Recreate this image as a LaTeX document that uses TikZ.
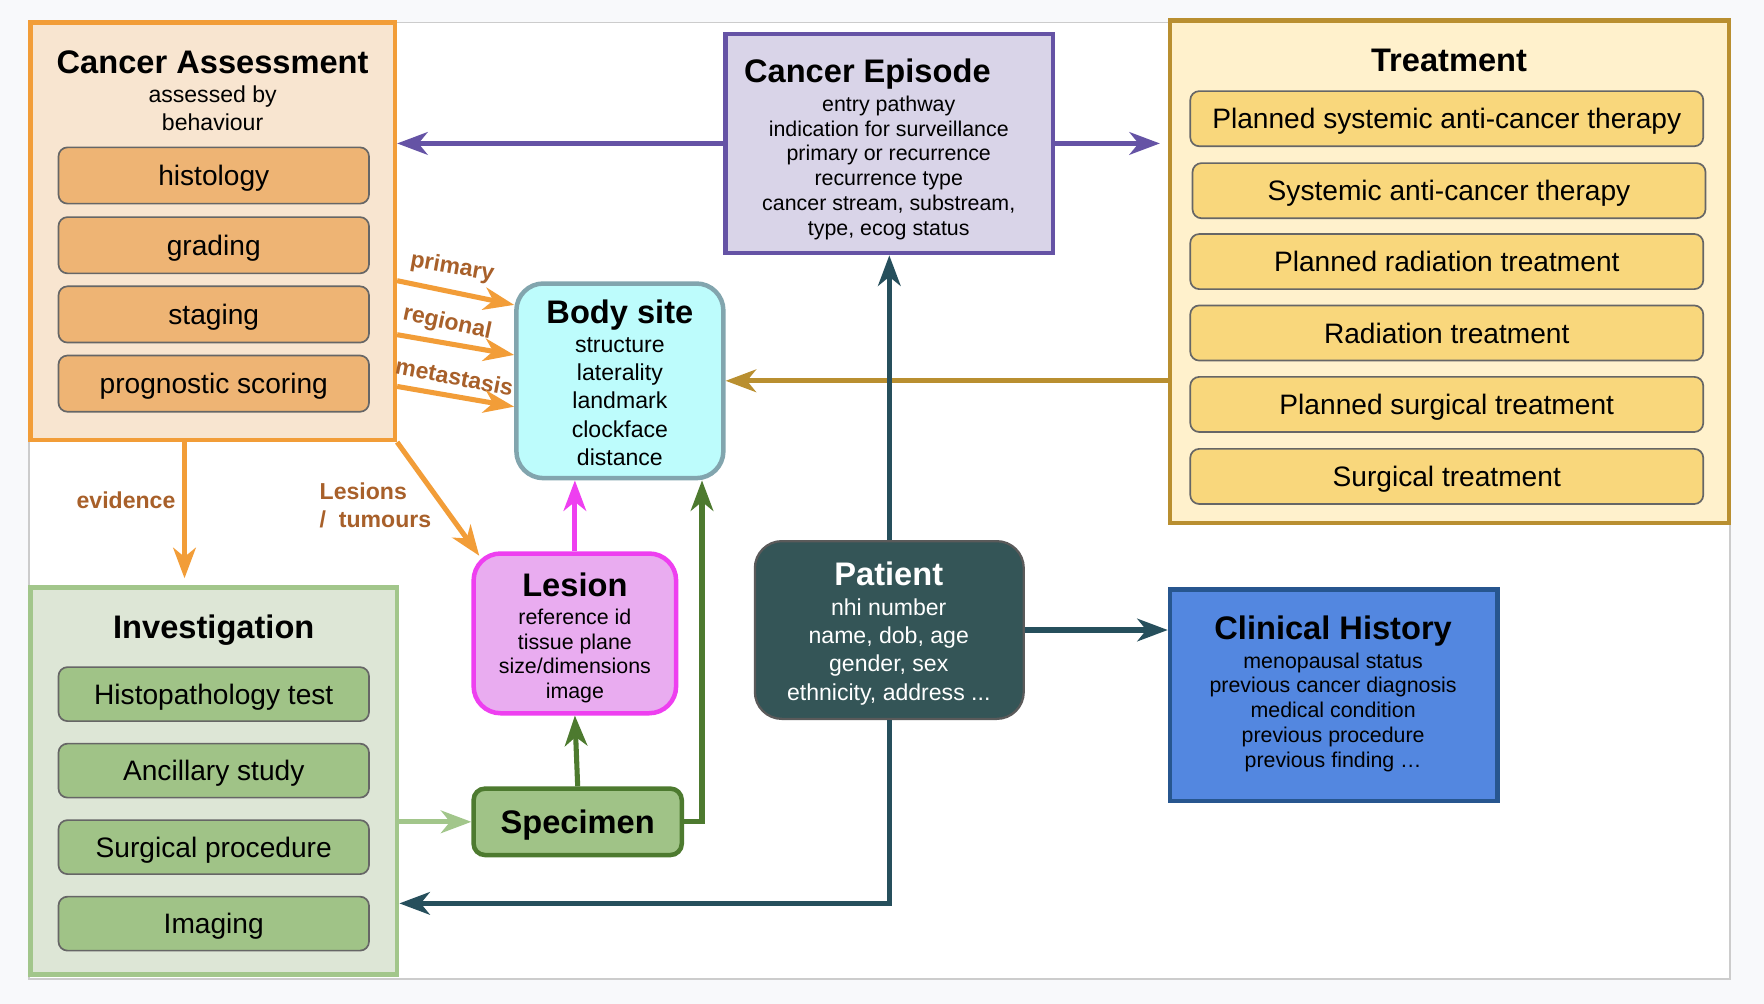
\documentclass[tikz,border=0pt]{standalone}
\usepackage{fontspec}
\setmainfont{Liberation Sans}
\usetikzlibrary{arrows.meta,positioning,calc}

\definecolor{bgout}{HTML}{F8F9FB}
\definecolor{panelline}{HTML}{CCCCCC}
\definecolor{itemline}{HTML}{666666}
\definecolor{caline}{HTML}{F29D38}
\definecolor{cafill}{HTML}{F8E5D0}
\definecolor{cafilltwo}{HTML}{EEB474}
\definecolor{epline}{HTML}{6553A5}
\definecolor{epfill}{HTML}{D9D4E8}
\definecolor{trline}{HTML}{B98F30}
\definecolor{trfill}{HTML}{FFF1CC}
\definecolor{trfilltwo}{HTML}{F9D77C}
\definecolor{bsline}{HTML}{82A5AE}
\definecolor{bsfill}{HTML}{BDFCFC}
\definecolor{lsline}{HTML}{EE3FF0}
\definecolor{lsfill}{HTML}{E9ACF0}
\definecolor{ptline}{HTML}{5A5A5A}
\definecolor{ptfill}{HTML}{345557}
\definecolor{ptarrow}{HTML}{264F5C}
\definecolor{chline}{HTML}{27568F}
\definecolor{chfill}{HTML}{5387E0}
\definecolor{ivline}{HTML}{A2C68B}
\definecolor{ivfill}{HTML}{DDE6D6}
\definecolor{ivfilltwo}{HTML}{A0C387}
\definecolor{spline}{HTML}{4D7A2F}
\definecolor{lblbrown}{HTML}{A8602A}

\newcommand{\ttlfont}{\fontsize{29}{34}\selectfont\bfseries}
\newcommand{\smallfont}{\fontsize{19}{22}\selectfont}
\newcommand{\midfont}{\fontsize{20.5}{25}\selectfont}
\newcommand{\itemfont}{\fontsize{25}{30}\selectfont}
\newcommand{\lblfont}{\fontsize{20.5}{25}\selectfont\bfseries}

\begin{document}
\begin{tikzpicture}[x=1pt,y=-1pt,
		cont/.style={draw, line width=4pt, inner sep=0pt},
		rbox/.style={cont, rounded corners=24pt},
		itm/.style={draw=itemline, line width=1.5pt, rounded corners=8pt, inner sep=0pt, minimum width=276pt, minimum height=50pt, font=\itemfont, text height=18pt, text depth=0pt},
		ttl/.style={inner sep=0pt, font=\ttlfont, text height=21pt, text depth=0pt},
		txt/.style={inner sep=0pt, align=center, font=\smallfont},
		txtl/.style={txt, font=\midfont},
		lbl/.style={inner sep=0pt, text=lblbrown, font=\lblfont},
		arr/.style={line width=4.5pt, -{Stealth[length=27pt, width=20pt, inset=8pt]}}]
	\fill[bgout] (0,0) rectangle (1568,892);
	\draw[panelline, fill=white, line width=1.5pt] (26,20) rectangle (1538,870);
	% cancer assessment
	\path 	(189,205.5) node (ca) [cont, draw=caline, fill=cafill, minimum width=324pt, minimum height=371pt] {}
			(189,54.5) node (ca-t) [ttl] {Cancer Assessment}
			(189,96.5) node (ca-b) [txtl] {assessed by\\behaviour}
			(190,156) node (histo) [itm, fill=cafilltwo] {histology}
			(190,218) node (grad) [itm, fill=cafilltwo] {grading}
			(190,279.5) node (stag) [itm, fill=cafilltwo] {staging}
			(190,341) node (prog) [itm, fill=cafilltwo] {prognostic scoring};
	% cancer episode
	\path 	(790.5,127.5) node (ep) [cont, draw=epline, fill=epfill, minimum width=291pt, minimum height=195pt] {}
			(771,63) node (ep-t) [ttl] {Cancer Episode}
			(790,149) node (ep-b) [txt] {entry pathway\\indication for surveillance\\primary or recurrence\\recurrence type\\cancer stream, substream,\\type, ecog status};
	% treatment
	\path 	(1288.5,241.5) node (tr) [cont, draw=trline, fill=trfill, minimum width=497pt, minimum height=447pt] {}
			(1288,53) node (tr-t) [ttl] {Treatment}
			(1286,105.5) node (psact) [itm, fill=trfilltwo, minimum width=456pt, minimum height=49pt] {Planned systemic anti-cancer therapy}
			(1288,169.5) node (sact) [itm, fill=trfilltwo, minimum width=456pt, minimum height=49pt] {Systemic anti-cancer therapy}
			(1286,232.5) node (prt) [itm, fill=trfilltwo, minimum width=456pt, minimum height=49pt] {Planned radiation treatment}
			(1286,296) node (rt) [itm, fill=trfilltwo, minimum width=456pt, minimum height=49pt] {Radiation treatment}
			(1286,359.5) node (pst) [itm, fill=trfilltwo, minimum width=456pt, minimum height=49pt] {Planned surgical treatment}
			(1286,423.5) node (st) [itm, fill=trfilltwo, minimum width=456pt, minimum height=49pt] {Surgical treatment};
	% body site, lesion, patient, clinical history
	\path 	(551,338.5) node (bs) [rbox, draw=bsline, fill=bsfill, minimum width=184pt, minimum height=173pt] {}
			(551,277) node (bs-t) [ttl] {Body site}
			(551,357) node (bs-b) [txtl] {structure\\laterality\\landmark\\clockface\\distance}
			(511,563) node (ls) [rbox, draw=lsline, fill=lsfill, minimum width=180pt, minimum height=142pt] {}
			(511,520) node (ls-t) [ttl] {Lesion}
			(511,583) node (ls-b) [txt] {reference id\\tissue plane\\size/dimensions\\image}
			(790.5,560) node (pt) [rbox, draw=ptline, line width=2pt, fill=ptfill, minimum width=239pt, minimum height=158pt] {}
			(790,510) node (pt-t) [ttl, text=white] {Patient}
			(790,579.5) node (pt-b) [txtl, text=white] {nhi number\\name, dob, age\\gender, sex\\ethnicity, address ...}
			(1185.5,618) node (ch) [cont, draw=chline, fill=chfill, minimum width=291pt, minimum height=188pt] {}
			(1185,558) node (ch-t) [ttl] {Clinical History}
			(1185,633) node (ch-b) [txt] {menopausal status\\previous cancer diagnosis\\medical condition\\previous procedure\\previous finding …};
	% investigation and specimen
	\path 	(190,694) node (iv) [cont, draw=ivline, fill=ivfill, minimum width=326pt, minimum height=344pt] {}
			(190,557) node (iv-t) [ttl] {Investigation}
			(190,617) node (histp) [itm, fill=ivfilltwo, minimum height=48pt] {Histopathology test}
			(190,685) node (ancs) [itm, fill=ivfilltwo, minimum height=48pt] {Ancillary study}
			(190,753) node (surgp) [itm, fill=ivfilltwo, minimum height=48pt] {Surgical procedure}
			(190,821) node (imag) [itm, fill=ivfilltwo, minimum height=48pt] {Imaging}
			(513.5,730.5) node (sp) [cont, draw=spline, fill=ivfilltwo, rounded corners=10pt, minimum width=185pt, minimum height=59pt, font=\ttlfont, text height=21pt, text depth=0pt] {Specimen};
	% edge labels
	\path 	(402,238) node (l-prim) [lbl, rotate=-10] {primary}
			(397.5,287.5) node (l-reg) [lbl, rotate=-12] {regional}
			(404,335) node (l-met) [lbl, rotate=-11] {metastasis}
			(112,445) node (l-evid) [lbl] {evidence}
			(284,449) node (l-les) [lbl, anchor=west, align=left] {Lesions\\/\ \ tumours};
	% connectors
	\draw [arr, epline] (ep.west) -- (ep.west -| ca.east);
	\draw [arr, epline] (ep.east) -- ([xshift=-7pt]ep.east -| tr.west);
	\draw [arr, trline] (tr.west |- bs.east) -- (bs.east);
	\draw [arr, caline] ($(ca.east)+(0,44)$) -- ($(bs.west)+(0,-67.5)$);
	\draw [arr, caline] ($(ca.east)+(0,92)$) -- ($(bs.west)+(0,-23)$);
	\draw [arr, caline] ($(ca.east)+(0,138)$) -- ($(bs.west)+(0,23)$);
	\draw [arr, caline] (ca.south east) -- ($(ls.north west)+(7,4)$);
	\draw [arr, caline] ($(ca.south)+(-25,0)$) -- ($(iv.north)+(-26,-6)$);
	\draw [arr, lsline] (ls.north) -- (ls.north |- bs.south);
	\draw [arr, spline] (sp.north) -- (ls.south);
	\draw [arr, spline] (sp.east) -| ($(bs.south east)+(-21,0)$);
	\draw [arr, ivline] (sp.west -| iv.east) -- (sp.west);
	\draw [arr, ptarrow] (pt.north) -- (ep.south);
	\draw [arr, ptarrow] (pt.east) -- (pt.east -| ch.west);
	\draw [arr, ptarrow] (pt.south) |- ($(iv.east)+(0,109)$);
\end{tikzpicture}
\end{document}
